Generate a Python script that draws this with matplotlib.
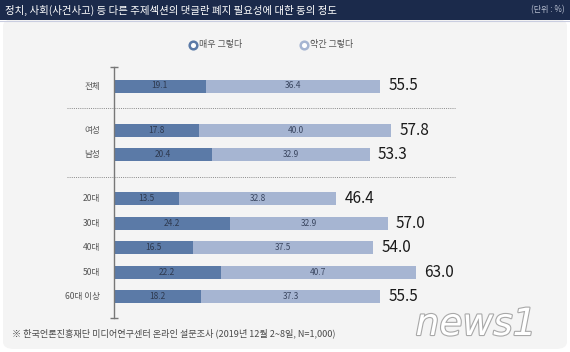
import matplotlib
matplotlib.use('Agg')
import matplotlib.pyplot as plt
from matplotlib.patches import Rectangle, FancyBboxPatch
from matplotlib.lines import Line2D
import matplotlib.patheffects as pe

plt.rcParams['font.family'] = ['Noto Sans CJK KR', 'DejaVu Sans']

# 데이터
categories = ['전체', '여성', '남성', '20대', '30대', '40대', '50대', '60대 이상']
groups = [0, 1, 1, 2, 2, 2, 2, 2]
very = [19.1, 17.8, 20.4, 13.5, 24.2, 16.5, 22.2, 18.2]
somewhat = [36.4, 40.0, 32.9, 32.8, 32.9, 37.5, 40.7, 37.3]
totals = [55.5, 57.8, 53.3, 46.4, 57.0, 54.0, 63.0, 55.5]
legend_labels = ['매우 그렇다', '약간 그렇다']

title = '정치, 사회(사건사고) 등 다른 주제섹션의 댓글란 폐지 필요성에 대한 동의 정도'
unit = '(단위 : %)'
source = '※ 한국언론진흥재단 미디어연구센터 온라인 설문조사 (2019년 12월 2~8일, N=1,000)'

c_dark = '#5b7aa7'
c_light = '#a6b5d2'
c_head = '#1b2a4b'

W, H = 570, 352
fig = plt.figure(figsize=(W / 100, H / 100), dpi=100)
fig.patch.set_facecolor('white')

# 배경 패널 & 헤더
fig.add_artist(FancyBboxPatch((3 / W, 3 / H), 564 / W, 330 / H,
                              boxstyle='round,pad=0,rounding_size=0.02',
                              transform=fig.transFigure, facecolor='#f4f4f4',
                              edgecolor='none', zorder=0))
fig.add_artist(Rectangle((0, 1 - 20 / H), 1, 20 / H, transform=fig.transFigure,
                         facecolor=c_head, edgecolor='none', zorder=1))
fig.add_artist(Line2D([0, 1], [1 - 20.5 / H] * 2, transform=fig.transFigure,
                      color='#c9cde0', lw=0.8, zorder=1))
fig.text(5 / W, 1 - 10 / H, title, color='white', fontsize=7.5,
         va='center', ha='left', zorder=2)
fig.text(565 / W, 1 - 10 / H, unit, color='#b8bfd0', fontsize=5.8,
         va='center', ha='right', zorder=2)

# 행 위치 (그룹 사이 간격)
pos = []
y = 0.0
for i, g in enumerate(groups):
    if i > 0:
        y += 1.0 if g == groups[i - 1] else 1.8
    pos.append(y)

# 축: 픽셀 114부터, 1단위 = 4.8px
x0 = 114
px_per = 4.8
row_px = 24.5
top_px = 86
ax = fig.add_axes([x0 / W, 0, (W - x0) / W, 1])
ax.set_xlim(0, (W - x0) / px_per)
ax.set_ylim((H - top_px) / row_px, -top_px / row_px)
ax.axis('off')

bh = 13 / row_px
ax.barh(pos, very, height=bh, color=c_dark, zorder=3)
ax.barh(pos, somewhat, left=very, height=bh, color=c_light, zorder=3)

for p, v, s, t, cat in zip(pos, very, somewhat, totals, categories):
    ax.text(v / 2, p, f'{v:.1f}', ha='center', va='center', fontsize=6,
            color='#2e3a50', zorder=4)
    ax.text(v + s / 2, p, f'{s:.1f}', ha='center', va='center', fontsize=6,
            color='#3a4660', zorder=4)
    ax.text(t + 1.7, p, f'{t:.1f}', ha='left', va='center', fontsize=11,
            color='#1a1a1a', family=['Liberation Sans Narrow', 'Noto Sans CJK KR'],
            zorder=4)
    ax.text(-14 / px_per, p, cat, ha='right', va='center', fontsize=6.2,
            color='#555555', zorder=4)

# 세로 축선
ytop = (67 - top_px) / row_px
ybot = (318 - top_px) / row_px
ax.plot([0, 0], [ytop, ybot], color='#777777', lw=1.0, zorder=5, clip_on=False)
ax.plot([0, 0], [ytop, ybot], ls='none', marker='_', ms=6, mew=1.0,
        color='#777777', zorder=5, clip_on=False)

# 그룹 구분 점선
for i in range(1, len(groups)):
    if groups[i] != groups[i - 1]:
        ys = (pos[i - 1] + pos[i]) / 2
        ax.plot([(67 - x0) / px_per, (455 - x0) / px_per], [ys, ys], ls=(0, (1, 1.2)),
                color='#8a8a8a', lw=0.7, clip_on=False, zorder=2)

# 범례
for xm, xt, col, lab in [(193, 199, c_dark, legend_labels[0]),
                         (304, 310, c_light, legend_labels[1])]:
    fig.add_artist(Line2D([xm / W], [1 - 45 / H], transform=fig.transFigure,
                          marker='o', ms=5.5, mfc='white', mec=col, mew=1.8, ls='none'))
    fig.text(xt / W, 1 - 45 / H, lab, fontsize=6.5, color='#555555',
             va='center', ha='left')

# 출처
fig.text(12 / W, 1 - 333 / H, source, fontsize=6.6, color='#4a4a4a',
         va='center', ha='left')

# 로고
fig.text(476 / W, 1 - 325 / H, 'news1', fontsize=27, style='italic',
         color='white', ha='center', va='center', family='DejaVu Sans',
         path_effects=[pe.Stroke(linewidth=1.6, foreground='#a8a8a8'), pe.Normal()])

fig.savefig('out.png', dpi=100, facecolor=fig.get_facecolor())
